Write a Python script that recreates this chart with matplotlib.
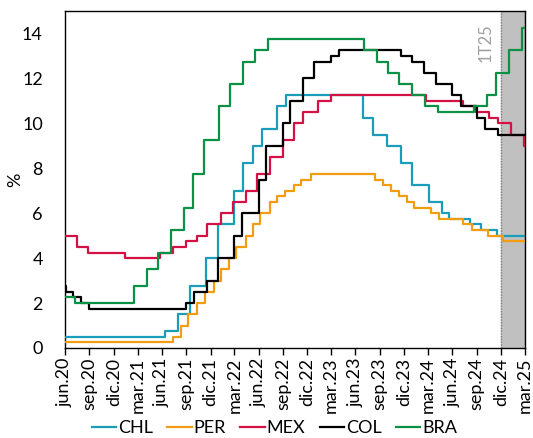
import matplotlib
matplotlib.use("Agg")
import matplotlib.pyplot as plt
import pandas as pd

plt.rcParams['font.family'] = ['Lato', 'DejaVu Sans']

end_date = "2025-03-31"

# policy rates: change dates and new levels
chl_dates = ["2020-06-30", "2021-07-14", "2021-09-01", "2021-10-14", "2021-12-15", "2022-01-27",
             "2022-03-30", "2022-05-04", "2022-06-08", "2022-07-14", "2022-09-07", "2022-10-13",
             "2023-07-28", "2023-09-05", "2023-10-26", "2023-12-20", "2024-01-31", "2024-04-02",
             "2024-05-23", "2024-06-18", "2024-09-03", "2024-10-17", "2024-12-17"]
chl_rates = [0.5, 0.75, 1.5, 2.75, 4.0, 5.5, 7.0, 8.25, 9.0, 9.75, 10.75, 11.25,
             10.25, 9.5, 9.0, 8.25, 7.25, 6.5, 6.0, 5.75, 5.5, 5.25, 5.0]

per_dates = ["2020-06-30", "2021-08-12", "2021-09-09", "2021-10-07", "2021-11-11", "2021-12-09",
             "2022-01-13", "2022-02-10", "2022-03-10", "2022-04-07", "2022-05-12", "2022-06-09",
             "2022-07-07", "2022-08-11", "2022-09-08", "2022-10-06", "2022-11-10", "2022-12-07",
             "2023-01-12", "2023-09-12", "2023-10-12", "2023-11-13", "2023-12-12", "2024-01-11",
             "2024-02-08", "2024-04-11", "2024-05-09", "2024-08-08", "2024-09-12", "2024-11-12",
             "2025-01-07"]
per_rates = [0.25, 0.5, 1.0, 1.5, 2.0, 2.5, 3.0, 3.5, 4.0, 4.5, 5.0, 5.5,
             6.0, 6.5, 6.75, 7.0, 7.25, 7.5, 7.75, 7.5, 7.25, 7.0, 6.75, 6.5,
             6.25, 6.0, 5.75, 5.5, 5.25, 5.0, 4.75]

mex_dates = ["2020-06-30", "2020-08-13", "2020-09-24", "2021-02-11", "2021-06-24", "2021-08-12",
             "2021-09-30", "2021-11-11", "2021-12-16", "2022-02-10", "2022-03-24", "2022-05-12",
             "2022-06-23", "2022-08-11", "2022-09-29", "2022-11-10", "2022-12-15", "2023-02-09",
             "2023-03-30", "2024-03-21", "2024-08-08", "2024-09-26", "2024-11-14", "2024-12-19",
             "2025-02-06", "2025-03-27"]
mex_rates = [5.0, 4.5, 4.25, 4.0, 4.25, 4.5, 4.75, 5.0, 5.5, 6.0, 6.5, 7.0,
             7.75, 8.5, 9.25, 10.0, 10.5, 11.0, 11.25, 11.0, 10.75, 10.5, 10.25, 10.0,
             9.5, 9.0]

col_dates = ["2020-06-30", "2020-07-02", "2020-07-31", "2020-08-31", "2020-09-30", "2021-09-30",
             "2021-10-29", "2021-12-17", "2022-01-28", "2022-03-31", "2022-04-29", "2022-06-30",
             "2022-07-29", "2022-09-30", "2022-10-28", "2022-12-16", "2023-01-27", "2023-03-31",
             "2023-04-28", "2023-12-18", "2024-01-31", "2024-03-15", "2024-04-30", "2024-06-28",
             "2024-07-31", "2024-09-30", "2024-10-31", "2024-12-19"]
col_rates = [2.75, 2.5, 2.25, 2.0, 1.75, 2.0, 2.5, 3.0, 4.0, 5.0, 6.0, 7.5,
             9.0, 10.0, 11.0, 12.0, 12.75, 13.0, 13.25, 13.0, 12.75, 12.25, 11.75, 11.25,
             10.75, 10.25, 9.75, 9.5]

bra_dates = ["2020-06-30", "2020-08-05", "2021-03-17", "2021-05-05", "2021-06-16", "2021-08-04",
             "2021-09-22", "2021-10-27", "2021-12-08", "2022-02-02", "2022-03-16", "2022-05-04",
             "2022-06-15", "2022-08-03", "2023-08-02", "2023-09-20", "2023-11-01", "2023-12-13",
             "2024-01-31", "2024-03-20", "2024-05-08", "2024-09-18", "2024-11-06", "2024-12-11",
             "2025-01-29", "2025-03-19"]
bra_rates = [2.25, 2.0, 2.75, 3.5, 4.25, 5.25, 6.25, 7.75, 9.25, 10.75, 11.75, 12.75,
             13.25, 13.75, 13.25, 12.75, 12.25, 11.75, 11.25, 10.75, 10.5, 10.75, 11.25, 12.25,
             13.25, 14.25]

series = [
    ("CHL", chl_dates, chl_rates, "#1a9db8"),
    ("PER", per_dates, per_rates, "#f39c12"),
    ("MEX", mex_dates, mex_rates, "#d31145"),
    ("COL", col_dates, col_rates, "#000000"),
    ("BRA", bra_dates, bra_rates, "#0a9146"),
]

tick_labels = ["jun.20", "sep.20", "dic.20", "mar.21", "jun.21", "sep.21", "dic.21", "mar.22",
               "jun.22", "sep.22", "dic.22", "mar.23", "jun.23", "sep.23", "dic.23", "mar.24",
               "jun.24", "sep.24", "dic.24", "mar.25"]

fig = plt.figure(figsize=(5.33, 4.38), dpi=100)
ax = fig.add_axes([65 / 533, 1 - 348 / 438, 460 / 533, 337 / 438])

# shaded forecast quarter
q_start = pd.Timestamp("2024-12-31")
q_end = pd.Timestamp(end_date)
ax.axvspan(q_start, q_end, color="#c0c0c0", zorder=0)
for xv in (q_start, q_end):
    ax.axvline(xv, color="#7f7f7f", lw=1, ls=(0, (1, 1)), zorder=1)
ax.text(pd.Timestamp("2024-11-01"), 14.45, "1T25", rotation=90, ha="center", va="top",
        color="#a0a0a0", fontsize=12)

for name, d, r, c in series:
    x = list(pd.to_datetime(d)) + [pd.Timestamp(end_date)]
    y = list(r) + [r[-1]]
    ax.step(x, y, where="post", color=c, lw=1.6, label=name, zorder=3)

ticks = pd.date_range("2020-06-30", end_date, freq="QE")
ax.set_xticks(ticks)
ax.set_xticklabels(tick_labels, rotation=90, fontsize=13)
ax.set_xlim(pd.Timestamp("2020-06-30"), pd.Timestamp(end_date))
ax.set_ylim(0, 15)
ax.set_yticks(range(0, 15, 2))
ax.tick_params(axis="y", length=0, labelsize=13, pad=16)
ax.tick_params(axis="x", length=5, width=1, pad=2, direction="out")
ax.set_ylabel("%", fontsize=13)
ax.yaxis.set_label_coords(-0.09, 0.5)
for s in ax.spines.values():
    s.set_color("#000000")
    s.set_linewidth(1)

fig.legend(*ax.get_legend_handles_labels(), loc="lower center", bbox_to_anchor=(0.515, -0.012),
           ncol=5, frameon=False, fontsize=13, handlelength=1.35, handletextpad=0.1,
           columnspacing=0.8, borderaxespad=0)

fig.savefig("out.png", dpi=100)
